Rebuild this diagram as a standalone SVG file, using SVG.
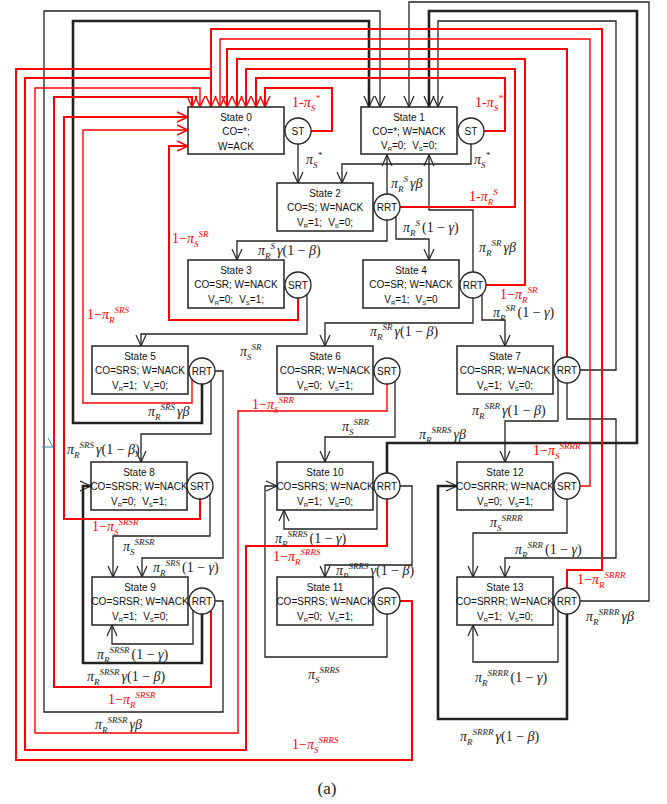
<svg xmlns="http://www.w3.org/2000/svg" width="667" height="804" viewBox="0 0 667 804">
<defs>
<style>
.box{fill:#fff;stroke:#222;stroke-width:1.5}
.cir{fill:#fff;stroke:#222;stroke-width:1.3}
.t{font-family:"Liberation Sans",Arial,sans-serif;font-size:10px;fill:#111;text-anchor:middle}
.v{font-size:6px}
.k{fill:none;stroke:#222;stroke-width:1.3;marker-end:url(#ab)}
.kt{stroke-width:2.6}
.rd{fill:none;stroke:#f00;stroke-width:2;marker-end:url(#ar)}
.rn{stroke-width:1.4}
.nm{marker-end:none}
.m{font-family:"Liberation Serif","DejaVu Serif",serif;font-size:14px;font-style:italic;fill:#222}
.r{fill:#f00}
.s{font-size:9px}
.u{font-style:normal}
</style>
<marker id="ab" markerUnits="userSpaceOnUse" markerWidth="12" markerHeight="12" refX="11" refY="5" orient="auto" overflow="visible"><path d="M0,0 L11,5 L0,10" fill="none" stroke="#222" stroke-width="1.2"/></marker>
<marker id="ar" markerUnits="userSpaceOnUse" markerWidth="12" markerHeight="12" refX="11" refY="5" orient="auto" overflow="visible"><path d="M0,0 L11,5 L0,10" fill="none" stroke="#f00" stroke-width="1.4"/></marker>
</defs>
<rect width="667" height="804" fill="#fff"/>
<g id="connectors">
<path class="k" d="M215,601 H223 V712 H44 V11 H380 V107"/>
<path class="k kt" d="M202,384 V423 H73 V21 H369 V107"/>
<path class="k" d="M580,601 H649 V2 H409 V107"/>
<path class="k kt" d="M387,473 V443 H637 V11 H429 V107"/>
<path class="k" d="M580,370 H616 V21 H438 V107"/>
<path class="k" d="M387,194 V155"/>
<path class="k" d="M473,272 V210 H429 V155"/>
<path class="k" d="M298,144 V183"/>
<path class="k" d="M471,144 V164 H342 V183"/>
<path class="k" d="M387,220 V241 H237 V260"/>
<path class="k" d="M396,217 V239 H429 V260"/>
<path class="k" d="M473,298 V323 H325 V346"/>
<path class="k" d="M482,294 V320 H505 V346"/>
<path class="k" d="M307,294 V334 H141 V346"/>
<path class="k" d="M211,380 V434 H141 V462"/>
<path class="k" d="M215,371 H223 V558 H142 V577"/>
<path class="k" d="M210,494 V536 H113 V577"/>
<path class="k kt" d="M202,614 V663 H83 V486 H91"/>
<path class="k" d="M193,610 V644 H112 V625"/>
<path class="k" d="M395,381 V437 H325 V462"/>
<path class="k" d="M558,379 V421 H505 V462"/>
<path class="k" d="M567,383 V419 H616 V558 H505 V577"/>
<path class="k" d="M400,486 H412 V565 H325 V577"/>
<path class="k" d="M377,494 V529 H284 V510"/>
<path class="k" d="M387,614 V657 H265 V486 H277"/>
<path class="k" d="M567,499 V533 H473 V577"/>
<path class="k kt" d="M567,614 V719 H438 V486 H457"/>
<path class="k" d="M558,610 V662 H473 V625"/>
<path class="rd" d="M567,588 V570 H602 V29 H211 V107"/>
<path class="rd rn" d="M580,486 H590 V39 H220 V107"/>
<path class="rd" d="M567,357 V49 H227 V107"/>
<path class="rd" d="M486,285 H525 V59 H237 V107"/>
<path class="rd" d="M400,207 H515 V69 H246 V107"/>
<path class="rd" d="M484,131 H505 V78 H256 V107"/>
<path class="rd" d="M311,131 H332 V88 H265 V107"/>
<path class="rd nm" d="M400,601 H412 V760 H16 V69 H212"/>
<path class="rd nm" d="M387,499 V546 H246 V750 H25 V78 H212"/>
<path class="rd rn" d="M387,384 V411 H238 V733 H35 V88 H200 V107"/>
<path class="rd" d="M211,610 V687 H54 V97 H192 V107"/>
<path class="rd" d="M200,499 V519 H64 V117 H188"/>
<path class="rd rn" d="M192,379 V403 H83 V130 H188"/>
<path class="rd" d="M298,298 V320 H169 V146 H188"/>
<path d="M42,447 H53 M48,438 L53,447" stroke="#4a7ebb" fill="none" stroke-width="1"/>
</g>
<g id="labels">
<text class="m" x="306" y="164">π<tspan class="s" dy="4">S</tspan><tspan class="s" dy="-10">*</tspan></text>
<text class="m" x="474" y="164">π<tspan class="s" dy="4">S</tspan><tspan class="s" dy="-10">*</tspan></text>
<text class="m" x="391" y="188">π<tspan class="s" dy="4">R</tspan><tspan class="s" dy="-10">S</tspan><tspan dy="6" dx="2">γβ</tspan></text>
<text class="m" x="258" y="255">π<tspan class="s" dy="4">R</tspan><tspan class="s" dy="-10">S</tspan><tspan dy="6" dx="2">γ</tspan><tspan class="u">(1 − </tspan>β<tspan class="u">)</tspan></text>
<text class="m" x="403" y="232">π<tspan class="s" dy="4">R</tspan><tspan class="s" dy="-10">S</tspan><tspan dy="6" dx="2" class="u">(1 − </tspan>γ<tspan class="u">)</tspan></text>
<text class="m" x="479" y="252">π<tspan class="s" dy="4">R</tspan><tspan class="s" dy="-10">SR</tspan><tspan dy="6" dx="2">γβ</tspan></text>
<text class="m" x="370" y="336">π<tspan class="s" dy="4">R</tspan><tspan class="s" dy="-10">SR</tspan><tspan dy="6" dx="2">γ</tspan><tspan class="u">(1 − </tspan>β<tspan class="u">)</tspan></text>
<text class="m" x="493" y="317">π<tspan class="s" dy="4">R</tspan><tspan class="s" dy="-10">SR</tspan><tspan dy="6" dx="2" class="u">(1 − </tspan>γ<tspan class="u">)</tspan></text>
<text class="m" x="240" y="356">π<tspan class="s" dy="4">S</tspan><tspan class="s" dy="-10">SR</tspan></text>
<text class="m" x="148" y="416">π<tspan class="s" dy="4">R</tspan><tspan class="s" dy="-10">SRS</tspan><tspan dy="6" dx="2">γβ</tspan></text>
<text class="m" x="67" y="454">π<tspan class="s" dy="4">R</tspan><tspan class="s" dy="-10">SRS</tspan><tspan dy="6" dx="2">γ</tspan><tspan class="u">(1 − </tspan>β<tspan class="u">)</tspan></text>
<text class="m" x="123" y="551">π<tspan class="s" dy="4">S</tspan><tspan class="s" dy="-10">SRSR</tspan></text>
<text class="m" x="153" y="572">π<tspan class="s" dy="4">R</tspan><tspan class="s" dy="-10">SRS</tspan><tspan dy="6" dx="2" class="u">(1 − </tspan>γ<tspan class="u">)</tspan></text>
<text class="m" x="97" y="659">π<tspan class="s" dy="4">R</tspan><tspan class="s" dy="-10">SRSR</tspan><tspan dy="6" dx="2" class="u">(1 − </tspan>γ<tspan class="u">)</tspan></text>
<text class="m" x="87" y="681">π<tspan class="s" dy="4">R</tspan><tspan class="s" dy="-10">SRSR</tspan><tspan dy="6" dx="2">γ</tspan><tspan class="u">(1 − </tspan>β<tspan class="u">)</tspan></text>
<text class="m" x="95" y="729">π<tspan class="s" dy="4">R</tspan><tspan class="s" dy="-10">SRSR</tspan><tspan dy="6" dx="2">γβ</tspan></text>
<text class="m" x="342" y="431">π<tspan class="s" dy="4">S</tspan><tspan class="s" dy="-10">SRR</tspan></text>
<text class="m" x="472" y="415">π<tspan class="s" dy="4">R</tspan><tspan class="s" dy="-10">SRR</tspan><tspan dy="6" dx="2">γ</tspan><tspan class="u">(1 − </tspan>β<tspan class="u">)</tspan></text>
<text class="m" x="419" y="439">π<tspan class="s" dy="4">R</tspan><tspan class="s" dy="-10">SRRS</tspan><tspan dy="6" dx="2">γβ</tspan></text>
<text class="m" x="490" y="527">π<tspan class="s" dy="4">S</tspan><tspan class="s" dy="-10">SRRR</tspan></text>
<text class="m" x="515" y="554">π<tspan class="s" dy="4">R</tspan><tspan class="s" dy="-10">SRR</tspan><tspan dy="6" dx="2" class="u">(1 − </tspan>γ<tspan class="u">)</tspan></text>
<text class="m" x="275" y="543">π<tspan class="s" dy="4">R</tspan><tspan class="s" dy="-10">SRRS</tspan><tspan dy="6" dx="2" class="u">(1 − </tspan>γ<tspan class="u">)</tspan></text>
<text class="m" x="336" y="575">π<tspan class="s" dy="4">R</tspan><tspan class="s" dy="-10">SRRS</tspan><tspan dy="6" dx="2">γ</tspan><tspan class="u">(1 − </tspan>β<tspan class="u">)</tspan></text>
<text class="m" x="308" y="679">π<tspan class="s" dy="4">S</tspan><tspan class="s" dy="-10">SRRS</tspan></text>
<text class="m" x="586" y="621">π<tspan class="s" dy="4">R</tspan><tspan class="s" dy="-10">SRRR</tspan><tspan dy="6" dx="2">γβ</tspan></text>
<text class="m" x="475" y="682">π<tspan class="s" dy="4">R</tspan><tspan class="s" dy="-10">SRRR</tspan><tspan dy="6" dx="2" class="u">(1 − </tspan>γ<tspan class="u">)</tspan></text>
<text class="m" x="460" y="741">π<tspan class="s" dy="4">R</tspan><tspan class="s" dy="-10">SRRR</tspan><tspan dy="6" dx="2">γ</tspan><tspan class="u">(1 − </tspan>β<tspan class="u">)</tspan></text>
<text class="m r" x="292" y="107"><tspan class="u">1-</tspan>π<tspan class="s" dy="4">S</tspan><tspan class="s" dy="-10">*</tspan></text>
<text class="m r" x="475" y="107"><tspan class="u">1-</tspan>π<tspan class="s" dy="4">S</tspan><tspan class="s" dy="-10">*</tspan></text>
<text class="m r" x="469" y="201"><tspan class="u">1-</tspan>π<tspan class="s" dy="4">R</tspan><tspan class="s" dy="-10">S</tspan></text>
<text class="m r" x="172" y="243"><tspan class="u">1−</tspan>π<tspan class="s" dy="4">S</tspan><tspan class="s" dy="-10">SR</tspan></text>
<text class="m r" x="500" y="299"><tspan class="u">1−</tspan>π<tspan class="s" dy="4">R</tspan><tspan class="s" dy="-10">SR</tspan></text>
<text class="m r" x="87" y="319"><tspan class="u">1−</tspan>π<tspan class="s" dy="4">R</tspan><tspan class="s" dy="-10">SRS</tspan></text>
<text class="m r" x="252" y="409"><tspan class="u">1−</tspan>π<tspan class="s" dy="4">S</tspan><tspan class="s" dy="-10">SRR</tspan></text>
<text class="m r" x="92" y="531"><tspan class="u">1−</tspan>π<tspan class="s" dy="4">S</tspan><tspan class="s" dy="-10">SRSR</tspan></text>
<text class="m r" x="273" y="561"><tspan class="u">1−</tspan>π<tspan class="s" dy="4">R</tspan><tspan class="s" dy="-10">SRRS</tspan></text>
<text class="m r" x="108" y="704"><tspan class="u">1−</tspan>π<tspan class="s" dy="4">R</tspan><tspan class="s" dy="-10">SRSR</tspan></text>
<text class="m r" x="292" y="749"><tspan class="u">1−</tspan>π<tspan class="s" dy="4">S</tspan><tspan class="s" dy="-10">SRRS</tspan></text>
<text class="m r" x="533" y="455"><tspan class="u">1−</tspan>π<tspan class="s" dy="4">S</tspan><tspan class="s" dy="-10">SRRR</tspan></text>
<text class="m r" x="577" y="584"><tspan class="u">1−</tspan>π<tspan class="s" dy="4">R</tspan><tspan class="s" dy="-10">SRRR</tspan></text>
</g>
<g id="state0"><rect class="box" x="188" y="107" width="96" height="47"/><text class="t" x="236" y="121">State 0</text><text class="t" x="236" y="135">CO=*;</text><text class="t" x="236" y="150">W=ACK</text><circle class="cir" cx="298" cy="131" r="13"/><text class="t" x="298" y="135">ST</text></g>
<g id="state1"><rect class="box" x="361" y="107" width="96" height="47"/><text class="t" x="409" y="121">State 1</text><text class="t" x="409" y="135">CO=*; W=NACK</text><text class="t" x="409" y="149">V<tspan class="v" dy="2">R</tspan><tspan dy="-2">=0;</tspan><tspan dx="6">V</tspan><tspan class="v" dy="2">S</tspan><tspan dy="-2">=0;</tspan></text><circle class="cir" cx="471" cy="131" r="13"/><text class="t" x="471" y="135">ST</text></g>
<g id="state2"><rect class="box" x="277" y="183" width="96" height="48"/><text class="t" x="325" y="197">State 2</text><text class="t" x="325" y="211">CO=S; W=NACK</text><text class="t" x="325" y="226">V<tspan class="v" dy="2">R</tspan><tspan dy="-2">=1;</tspan><tspan dx="6">V</tspan><tspan class="v" dy="2">S</tspan><tspan dy="-2">=0;</tspan></text><circle class="cir" cx="387" cy="207" r="13"/><text class="t" x="387" y="211">RRT</text></g>
<g id="state3"><rect class="box" x="188" y="260" width="96" height="48"/><text class="t" x="236" y="274">State 3</text><text class="t" x="236" y="288">CO=SR; W=NACK</text><text class="t" x="236" y="303">V<tspan class="v" dy="2">R</tspan><tspan dy="-2">=0;</tspan><tspan dx="6">V</tspan><tspan class="v" dy="2">S</tspan><tspan dy="-2">=1;</tspan></text><circle class="cir" cx="298" cy="285" r="13"/><text class="t" x="298" y="289">SRT</text></g>
<g id="state4"><rect class="box" x="363" y="260" width="96" height="48"/><text class="t" x="411" y="274">State 4</text><text class="t" x="411" y="288">CO=SR; W=NACK</text><text class="t" x="411" y="303">V<tspan class="v" dy="2">R</tspan><tspan dy="-2">=1;</tspan><tspan dx="6">V</tspan><tspan class="v" dy="2">S</tspan><tspan dy="-2">=0</tspan></text><circle class="cir" cx="473" cy="285" r="13"/><text class="t" x="473" y="289">RRT</text></g>
<g id="state5"><rect class="box" x="92" y="346" width="96" height="48"/><text class="t" x="140" y="360">State 5</text><text class="t" x="140" y="374">CO=SRS; W=NACK</text><text class="t" x="140" y="389">V<tspan class="v" dy="2">R</tspan><tspan dy="-2">=1;</tspan><tspan dx="6">V</tspan><tspan class="v" dy="2">S</tspan><tspan dy="-2">=0;</tspan></text><circle class="cir" cx="202" cy="371" r="13"/><text class="t" x="202" y="375">RRT</text></g>
<g id="state6"><rect class="box" x="277" y="346" width="96" height="48"/><text class="t" x="325" y="360">State 6</text><text class="t" x="325" y="374">CO=SRR; W=NACK</text><text class="t" x="325" y="389">V<tspan class="v" dy="2">R</tspan><tspan dy="-2">=0;</tspan><tspan dx="6">V</tspan><tspan class="v" dy="2">S</tspan><tspan dy="-2">=1;</tspan></text><circle class="cir" cx="387" cy="371" r="13"/><text class="t" x="387" y="375">SRT</text></g>
<g id="state7"><rect class="box" x="457" y="346" width="96" height="48"/><text class="t" x="505" y="360">State 7</text><text class="t" x="505" y="374">CO=SRR; W=NACK</text><text class="t" x="505" y="389">V<tspan class="v" dy="2">R</tspan><tspan dy="-2">=1;</tspan><tspan dx="6">V</tspan><tspan class="v" dy="2">S</tspan><tspan dy="-2">=0;</tspan></text><circle class="cir" cx="567" cy="370" r="13"/><text class="t" x="567" y="374">RRT</text></g>
<g id="state8"><rect class="box" x="91" y="462" width="96" height="48"/><text class="t" x="139" y="476">State 8</text><text class="t" x="139" y="490">CO=SRSR; W=NACK</text><text class="t" x="139" y="505">V<tspan class="v" dy="2">R</tspan><tspan dy="-2">=0;</tspan><tspan dx="6">V</tspan><tspan class="v" dy="2">S</tspan><tspan dy="-2">=1;</tspan></text><circle class="cir" cx="200" cy="486" r="13"/><text class="t" x="200" y="490">SRT</text></g>
<g id="state9"><rect class="box" x="92" y="577" width="96" height="48"/><text class="t" x="140" y="591">State 9</text><text class="t" x="140" y="605">CO=SRSR; W=NACK</text><text class="t" x="140" y="620">V<tspan class="v" dy="2">R</tspan><tspan dy="-2">=1;</tspan><tspan dx="6">V</tspan><tspan class="v" dy="2">S</tspan><tspan dy="-2">=0;</tspan></text><circle class="cir" cx="202" cy="601" r="13"/><text class="t" x="202" y="605">RRT</text></g>
<g id="state10"><rect class="box" x="277" y="462" width="96" height="48"/><text class="t" x="325" y="476">State 10</text><text class="t" x="325" y="490">CO=SRRS; W=NACK</text><text class="t" x="325" y="505">V<tspan class="v" dy="2">R</tspan><tspan dy="-2">=1;</tspan><tspan dx="6">V</tspan><tspan class="v" dy="2">S</tspan><tspan dy="-2">=0;</tspan></text><circle class="cir" cx="387" cy="486" r="13"/><text class="t" x="387" y="490">RRT</text></g>
<g id="state11"><rect class="box" x="277" y="577" width="96" height="48"/><text class="t" x="325" y="591">State 11</text><text class="t" x="325" y="605">CO=SRRS; W=NACK</text><text class="t" x="325" y="620">V<tspan class="v" dy="2">R</tspan><tspan dy="-2">=0;</tspan><tspan dx="6">V</tspan><tspan class="v" dy="2">S</tspan><tspan dy="-2">=1;</tspan></text><circle class="cir" cx="387" cy="601" r="13"/><text class="t" x="387" y="605">SRT</text></g>
<g id="state12"><rect class="box" x="457" y="462" width="96" height="48"/><text class="t" x="505" y="476">State 12</text><text class="t" x="505" y="490">CO=SRRR; W=NACK</text><text class="t" x="505" y="505">V<tspan class="v" dy="2">R</tspan><tspan dy="-2">=0;</tspan><tspan dx="6">V</tspan><tspan class="v" dy="2">S</tspan><tspan dy="-2">=1;</tspan></text><circle class="cir" cx="567" cy="486" r="13"/><text class="t" x="567" y="490">SRT</text></g>
<g id="state13"><rect class="box" x="457" y="577" width="96" height="48"/><text class="t" x="505" y="591">State 13</text><text class="t" x="505" y="605">CO=SRRR; W=NACK</text><text class="t" x="505" y="620">V<tspan class="v" dy="2">R</tspan><tspan dy="-2">=1;</tspan><tspan dx="6">V</tspan><tspan class="v" dy="2">S</tspan><tspan dy="-2">=0;</tspan></text><circle class="cir" cx="567" cy="601" r="13"/><text class="t" x="567" y="605">RRT</text></g>
<text x="327" y="794" font-family="Liberation Serif,serif" font-size="17" text-anchor="middle" fill="#222">(a)</text>
</svg>
